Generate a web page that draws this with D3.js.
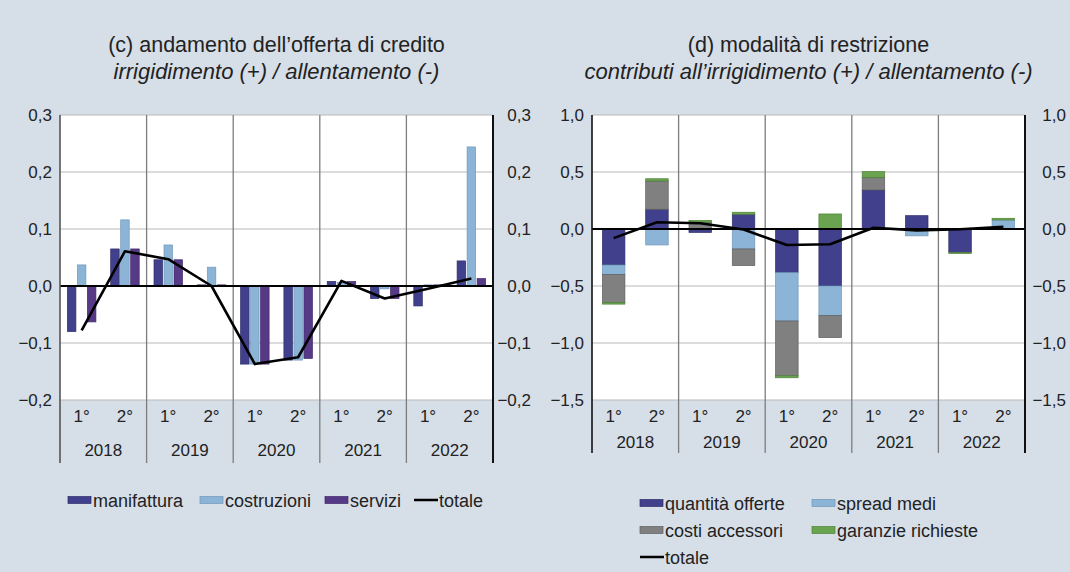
<!DOCTYPE html>
<html>
<head>
<meta charset="utf-8">
<script src="https://cdn.jsdelivr.net/npm/d3@7"></script>
<style>
  body { margin: 0; background: #d6dee8; }
  svg { display: block; font-family: "Liberation Sans", Arial, sans-serif; }
</style>
</head>
<body>
<svg id="chart" width="1070" height="572"></svg>
<script>
// semesters and years on the x axis
const years = ["2018", "2019", "2020", "2021", "2022"];
const halves = ["1°", "2°"];

// (c) credit supply by sector
const manifattura = [-0.080, 0.065, 0.046, 0.002, -0.137, -0.130, 0.008, -0.022, -0.035, 0.044];
const costruzioni = [0.037, 0.116, 0.072, 0.033, -0.137, -0.130, 0.006, -0.005, 0.002, 0.244];
const servizi     = [-0.063, 0.065, 0.046, 0.002, -0.137, -0.127, 0.008, -0.022, 0.002, 0.013];
const totaleC     = [-0.078, 0.061, 0.047, 0.000, -0.137, -0.125, 0.009, -0.022, -0.005, 0.013];

// (d) contributions to tightening
const quantita = [-0.316, 0.173, -0.030, 0.129, -0.383, -0.500, 0.342, 0.117, -0.205, 0.000];
const spread   = [-0.082, -0.140, 0.000, -0.175, -0.424, -0.260, 0.000, -0.060, 0.000, 0.079];
const costi    = [-0.246, 0.248, 0.060, -0.146, -0.480, -0.193, 0.111, 0.000, 0.000, 0.000];
const garanzie = [-0.015, 0.020, 0.015, 0.018, -0.018, 0.132, 0.050, 0.000, -0.010, 0.015];
const totaleD  = [-0.080, 0.059, 0.050, -0.005, -0.140, -0.134, 0.011, -0.012, -0.002, 0.020];

const ticksC = [-0.2, -0.1, 0, 0.1, 0.2, 0.3];
const ticksD = [-1.5, -1.0, -0.5, 0, 0.5, 1.0];

const colors = {
  manifattura: "#41408c", costruzioni: "#8cb4d6", servizi: "#573a87",
  quantita: "#41408c", spread: "#8cb4d6", costi: "#808080", garanzie: "#6aa451"
};
const edge = {
  manifattura: "#2e2d6a", costruzioni: "#6f97ba", servizi: "#3f2868",
  quantita: "#2e2d6a", spread: "#6f97ba", costi: "#5e5e5e", garanzie: "#4f8239"
};

const slots = [];
years.forEach(y => halves.forEach(h => slots.push(y + "-" + h)));

const locale = d3.formatLocale({decimal: ",", thousands: ".", grouping: [3], currency: ["", "€"]});
const fmt = locale.format(".1f");

const svg = d3.select("#chart");
const plotTop = 115, plotBottom = 400;

function drawPanel(opt) {
  const g = svg.append("g");
  const x = d3.scaleBand().domain(slots).range([opt.left, opt.right]);
  const y = d3.scaleLinear().domain(opt.domain).range([plotBottom, plotTop]);

  // white plot area
  g.append("rect")
    .attr("x", opt.left).attr("y", plotTop)
    .attr("width", opt.right - opt.left).attr("height", plotBottom - plotTop)
    .attr("fill", "#fff");

  // horizontal grid
  g.append("g").selectAll("line")
    .data(opt.ticks)
    .join("line")
    .attr("x1", opt.left).attr("x2", opt.right)
    .attr("y1", d => y(d)).attr("y2", d => y(d))
    .attr("stroke", "#b9b9b9").attr("stroke-width", 1.2);

  // year separators, running down through the label area
  const yearStep = (opt.right - opt.left) / years.length;
  g.append("g").selectAll("line")
    .data(d3.range(1, years.length))
    .join("line")
    .attr("x1", i => opt.left + i * yearStep).attr("x2", i => opt.left + i * yearStep)
    .attr("y1", plotTop).attr("y2", opt.sepBottom)
    .attr("stroke", "#7d7d7d").attr("stroke-width", 1.3);

  opt.bars(g, x, y);

  // zero line
  g.append("line")
    .attr("x1", opt.left).attr("x2", opt.right)
    .attr("y1", y(0)).attr("y2", y(0))
    .attr("stroke", "#000").attr("stroke-width", 2);

  // totale line
  const line = d3.line()
    .x((d, i) => x(slots[i]) + x.bandwidth() / 2)
    .y(d => y(d));
  g.append("path")
    .datum(opt.totale)
    .attr("fill", "none")
    .attr("stroke", "#000")
    .attr("stroke-width", 2.6)
    .attr("stroke-linejoin", "round")
    .attr("d", line);

  // borders
  g.append("line")
    .attr("x1", opt.left).attr("x2", opt.left)
    .attr("y1", plotTop).attr("y2", opt.sepBottom)
    .attr("stroke", opt.leftBorder).attr("stroke-width", 1.6);
  g.append("line")
    .attr("x1", opt.right).attr("x2", opt.right)
    .attr("y1", plotTop).attr("y2", opt.sepBottom)
    .attr("stroke", "#111").attr("stroke-width", 2);

  // y axes on both sides (right labels are right-aligned)
  const axL = d3.axisLeft(y).tickValues(opt.ticks).tickFormat(fmt).tickSize(0).tickPadding(8);
  const axR = d3.axisRight(y).tickValues(opt.ticks).tickFormat(fmt).tickSize(0).tickPadding(opt.rightPad);
  const gl = g.append("g").attr("transform", `translate(${opt.left},0)`).call(axL);
  const gr = g.append("g").attr("transform", `translate(${opt.right},0)`).call(axR);
  gr.selectAll("text").attr("text-anchor", "end");
  [gl, gr].forEach(a => {
    a.select(".domain").remove();
    a.selectAll("text").attr("font-size", 17).attr("fill", "#222")
      .attr("font-family", "Liberation Sans, Arial, sans-serif");
  });

  // x labels: semester then year
  g.append("g").selectAll("text")
    .data(slots)
    .join("text")
    .attr("x", d => x(d) + x.bandwidth() / 2)
    .attr("y", 422)
    .attr("text-anchor", "middle")
    .attr("font-size", 17).attr("fill", "#222")
    .text(d => d.split("-")[1]);
  g.append("g").selectAll("text")
    .data(years)
    .join("text")
    .attr("x", (d, i) => opt.left + (i + 0.5) * yearStep)
    .attr("y", opt.yearY)
    .attr("text-anchor", "middle")
    .attr("font-size", 17).attr("fill", "#222")
    .text(d => d);

  // titles
  const cx = (opt.left + opt.right) / 2;
  g.append("text").attr("x", cx).attr("y", 52)
    .attr("text-anchor", "middle").attr("font-size", 21.5).attr("fill", "#222")
    .text(opt.title);
  g.append("text").attr("x", cx).attr("y", 79)
    .attr("text-anchor", "middle").attr("font-size", 22).attr("fill", "#222")
    .attr("font-style", "italic")
    .text(opt.subtitle);
}

// (c) grouped bars
drawPanel({
  left: 60, right: 493, domain: [-0.2, 0.3], ticks: ticksC,
  sepBottom: 463, yearY: 456, leftBorder: "#555", rightPad: 38,
  totale: totaleC,
  title: "(c) andamento dell’offerta di credito",
  subtitle: "irrigidimento (+) / allentamento (-)",
  bars(g, x, y) {
    const series = [
      {key: "manifattura", values: manifattura},
      {key: "costruzioni", values: costruzioni},
      {key: "servizi", values: servizi}
    ];
    const x1 = d3.scaleBand().domain(series.map(s => s.key))
      .range([0, x.bandwidth()]).paddingInner(0.15).paddingOuter(0.74);
    g.append("g").selectAll("g")
      .data(series)
      .join("g")
      .attr("fill", s => colors[s.key])
      .attr("stroke", s => edge[s.key])
      .attr("stroke-width", 0.7)
      .selectAll("rect")
      .data(s => s.values.map((v, i) => ({key: s.key, v, slot: slots[i]})))
      .join("rect")
      .attr("x", d => x(d.slot) + x1(d.key))
      .attr("width", x1.bandwidth())
      .attr("y", d => y(Math.max(0, d.v)))
      .attr("height", d => Math.abs(y(d.v) - y(0)));
  }
});

// (d) diverging stacked bars
drawPanel({
  left: 592, right: 1025, domain: [-1.5, 1.0], ticks: ticksD,
  sepBottom: 453, yearY: 448, leftBorder: "#111", rightPad: 41,
  totale: totaleD,
  title: "(d) modalità di restrizione",
  subtitle: "contributi all’irrigidimento (+) / allentamento (-)",
  bars(g, x, y) {
    const keys = ["quantita", "spread", "costi", "garanzie"];
    const rows = slots.map((s, i) => ({
      slot: s, quantita: quantita[i], spread: spread[i], costi: costi[i], garanzie: garanzie[i]
    }));
    const stacked = d3.stack().keys(keys).offset(d3.stackOffsetDiverging)(rows);
    const pad = x.bandwidth() * 0.24;
    g.append("g").selectAll("g")
      .data(stacked)
      .join("g")
      .attr("fill", s => colors[s.key])
      .attr("stroke", s => edge[s.key])
      .attr("stroke-width", 0.7)
      .selectAll("rect")
      .data(s => s.filter(d => d[1] !== d[0]))
      .join("rect")
      .attr("x", d => x(d.data.slot) + pad)
      .attr("width", x.bandwidth() - 2 * pad)
      .attr("y", d => y(Math.max(d[0], d[1])))
      .attr("height", d => Math.abs(y(d[0]) - y(d[1])));
  }
});

// legends
function legend(items, positions) {
  const lg = svg.append("g").attr("font-size", 18).attr("fill", "#222");
  items.forEach((it, i) => {
    const [px, py] = positions[i];
    if (it.line) {
      lg.append("line").attr("x1", px).attr("x2", px + 24)
        .attr("y1", py).attr("y2", py).attr("stroke", "#000").attr("stroke-width", 2.5);
    } else {
      lg.append("rect").attr("x", px).attr("y", py - 3.5).attr("width", 23).attr("height", 7)
        .attr("fill", colors[it.key]).attr("stroke", edge[it.key]).attr("stroke-width", 0.7);
    }
    lg.append("text").attr("x", px + 25).attr("y", py + 6.5).text(it.label);
  });
}

legend(
  [{key: "manifattura", label: "manifattura"}, {key: "costruzioni", label: "costruzioni"},
   {key: "servizi", label: "servizi"}, {line: true, label: "totale"}],
  [[68, 500], [200, 500], [325, 500], [414, 500]]
);
legend(
  [{key: "quantita", label: "quantità offerte"}, {key: "spread", label: "spread medi"},
   {key: "costi", label: "costi accessori"}, {key: "garanzie", label: "garanzie richieste"},
   {line: true, label: "totale"}],
  [[640, 503], [812, 503], [640, 530], [812, 530], [640, 557]]
);
</script>
</body>
</html>
